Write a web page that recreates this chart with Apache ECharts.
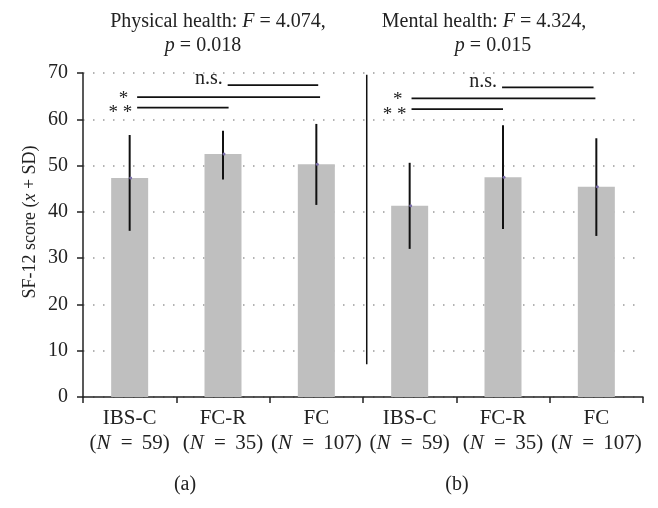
<!DOCTYPE html>
<html>
<head>
<meta charset="utf-8">
<script src="https://cdn.jsdelivr.net/npm/echarts@6/dist/echarts.min.js"></script>
<style>html,body{margin:0;padding:0;background:#fff;}#c{width:658px;height:508px;}</style>
</head>
<body>
<div id="c"></div>
<script>
// ---- data ----
var groups = ['IBS-C', 'FC-R', 'FC', 'IBS-C', 'FC-R', 'FC'];
var nValues = [59, 35, 107, 59, 35, 107];
var means = [47.3, 52.5, 50.3, 41.3, 47.5, 45.4];
var upperSD = [56.6, 57.5, 59.0, 50.6, 58.7, 55.9];
var lowerSD = [35.9, 47.0, 41.5, 32.0, 36.3, 34.8];
var yTicks = [0, 10, 20, 30, 40, 50, 60, 70];
// significance brackets (x in category units on a 0..6 scale)
var sigLabels = ['n.s.', '*', '* *', 'n.s.', '*', '* *'];
var sigStart = [1.55, 0.58, 0.58, 4.49, 3.52, 3.52];
var sigEnd = [2.52, 2.54, 1.56, 5.47, 5.49, 4.50];
var sigLevel = [67.4, 64.8, 62.5, 66.9, 64.5, 62.2];
// panel separator
var sepX = [3.04, 3.04];
var sepY = [7.1, 69.6];

var FONT = '"Liberation Serif", "DejaVu Serif", serif';
var chart = echarts.init(document.getElementById('c'), null, {renderer: 'canvas'});

var catData = groups.map(function (g, i) { return g + '|' + nValues[i]; });
var errData = means.map(function (m, i) { return [i, lowerSD[i], upperSD[i], m]; });
var sigData = sigLabels.map(function (l, i) { return [sigStart[i], sigEnd[i], sigLevel[i], i]; });
var sepData = sepX.map(function (x, i) { return [x, sepY[i]]; });

function richText(t, size) {
  return {text: t, fontFamily: FONT, fontSize: size, fill: '#222',
          align: 'center', verticalAlign: 'middle',
          rich: {i: {fontFamily: FONT, fontSize: size, fontStyle: 'italic', fill: '#222'}}};
}

var option = {
  animation: false,
  backgroundColor: '#fff',
  grid: {left: 83, right: 15, top: 73, bottom: 111, containLabel: false},
  xAxis: [{
    type: 'category',
    data: catData,
    boundaryGap: true,
    axisLine: {lineStyle: {color: '#222', width: 1.5}},
    axisTick: {show: true, length: 6, lineStyle: {color: '#222', width: 1.5}},
    axisLabel: {
      margin: 9,
      interval: 0,
      fontFamily: FONT, fontSize: 21, color: '#222', lineHeight: 25,
      formatter: function (v) {
        var p = v.split('|');
        return '{n|' + p[0] + '}\n{n|(}{i|N}{e| = }{n|' + p[1] + ')}';
      },
      rich: {
        n: {fontFamily: FONT, fontSize: 21, color: '#222', lineHeight: 25},
        e: {fontFamily: FONT, fontSize: 21, color: '#222', lineHeight: 25, padding: [0, 4, 0, 5]},
        i: {fontFamily: FONT, fontSize: 21, color: '#222', fontStyle: 'italic', lineHeight: 25}
      }
    },
    splitLine: {show: false}
  }, {
    type: 'value', min: 0, max: 6, show: false
  }],
  yAxis: {
    type: 'value', min: yTicks[0], max: yTicks[yTicks.length - 1], interval: 10,
    axisLine: {show: true, lineStyle: {color: '#222', width: 1.5}},
    axisTick: {show: true, length: 6, lineStyle: {color: '#222', width: 1.5}},
    axisLabel: {margin: 15, fontFamily: FONT, fontSize: 20, color: '#222'},
    splitLine: {show: true, lineStyle: {color: '#9a9a9a', width: 1.5, type: [1.5, 8.5]}}
  },
  series: [{
    type: 'bar',
    data: means,
    barWidth: 37,
    itemStyle: {color: '#bfbfbf'},
    z: 2
  }, {
    type: 'custom',
    xAxisIndex: 0,
    data: errData,
    z: 3,
    renderItem: function (params, api) {
      var i = api.value(0);
      var lo = api.coord([i, api.value(1)]);
      var hi = api.coord([i, api.value(2)]);
      var mid = api.coord([i, api.value(3)]);
      return {type: 'group', children: [
        {type: 'line', shape: {x1: lo[0], y1: lo[1], x2: hi[0], y2: hi[1]},
         style: {stroke: '#111', lineWidth: 2}},
        {type: 'circle', shape: {cx: mid[0] + 1, cy: mid[1], r: 1.5},
         style: {fill: '#7a6ea8'}}
      ]};
    }
  }, {
    type: 'custom',
    xAxisIndex: 1,
    data: sigData,
    z: 4,
    renderItem: function (params, api) {
      var a = api.coord([api.value(0), api.value(2)]);
      var b = api.coord([api.value(1), api.value(2)]);
      var lbl = sigLabels[api.value(3)];
      var isNs = lbl === 'n.s.';
      var dy = isNs ? 4 : (lbl === '*' ? 11 : 15);
      return {type: 'group', children: [
        {type: 'line', shape: {x1: a[0], y1: a[1], x2: b[0], y2: b[1]},
         style: {stroke: '#111', lineWidth: 1.8}},
        {type: 'text', x: a[0] - (lbl === '*' ? 9 : 5), y: a[1] + dy,
         style: {text: lbl, fontFamily: FONT, fontSize: isNs ? 20 : 19, fill: '#222',
                 align: 'right', verticalAlign: 'bottom'}}
      ]};
    }
  }, {
    type: 'line',
    xAxisIndex: 1,
    data: sepData,
    symbol: 'none',
    lineStyle: {color: '#111', width: 1.5},
    z: 4
  }],
  graphic: [
    {type: 'text', x: 218, y: 22, style: richText('Physical health: {i|F} = 4.074,', 20)},
    {type: 'text', x: 203, y: 46, style: richText('{i|p} = 0.018', 20)},
    {type: 'text', x: 484, y: 22, style: richText('Mental health: {i|F} = 4.324,', 20)},
    {type: 'text', x: 493, y: 46, style: richText('{i|p} = 0.015', 20)},
    {type: 'text', x: 30, y: 222, rotation: Math.PI / 2, style: richText('SF-12 score ({i|x} + SD)', 18)},
    {type: 'text', x: 185, y: 485, style: richText('(a)', 20)},
    {type: 'text', x: 457, y: 485, style: richText('(b)', 20)}
  ]
};
chart.setOption(option);
</script>
</body>
</html>
